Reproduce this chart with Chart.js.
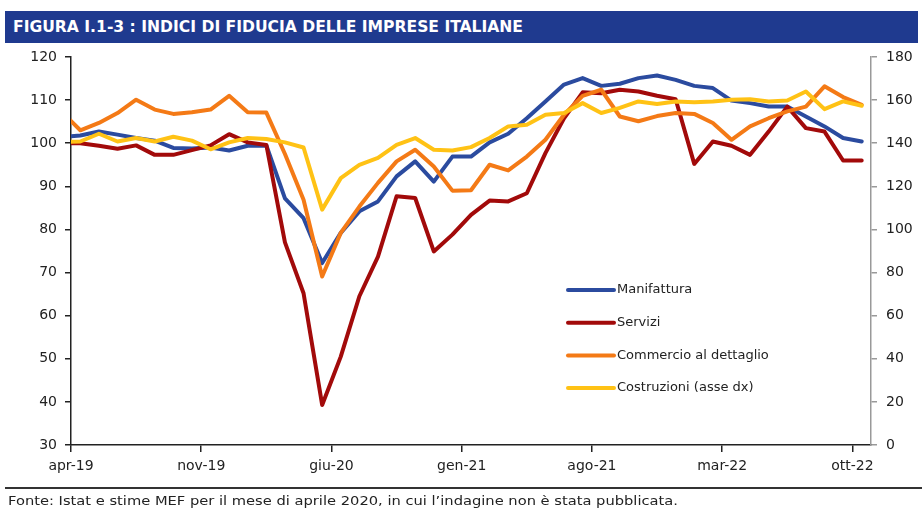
<!DOCTYPE html>
<html lang="it">
<head>
<meta charset="UTF-8">
<title>Indici di fiducia delle imprese italiane</title>
<script src="https://cdn.jsdelivr.net/npm/chart.js"></script>
<style>
  html, body { margin: 0; padding: 0; background: #fff; }
  body { width: 922px; height: 512px; position: relative; overflow: hidden; }
  #grafico { position: absolute; left: 0; top: 0; }
  #titolo { position: absolute; left: 5px; top: 11px; width: 913px; height: 32px; background: #1f3a8f; }
  #titolo span { position: absolute; left: 8px; top: 7px; color: #fff; font: bold 15px "DejaVu Sans Condensed", "DejaVu Sans", sans-serif; white-space: nowrap; transform-origin: left top; }
  #linea { position: absolute; left: 5px; top: 487px; width: 917px; height: 2px; background: #333; }
  #fonte { position: absolute; left: 8px; top: 493px; font: 13px "DejaVu Sans", sans-serif; color: #222; white-space: nowrap; transform-origin: left top; }
</style>
</head>
<body>
  <canvas id="grafico" width="922" height="512"></canvas>
  <div id="titolo"><span>FIGURA I.1-3 : INDICI DI FIDUCIA DELLE IMPRESE ITALIANE</span></div>
  <div id="linea"></div>
  <div id="fonte">Fonte: Istat e stime MEF per il mese di aprile 2020, in cui l’indagine non è stata pubblicata.</div>

<script>
// mesi (il primo, mar-19, resta fuori dall'asse e serve solo ad attaccare le linee al bordo)
const mesi = ['mar-19','apr-19','mag-19','giu-19','lug-19','ago-19','set-19','ott-19','nov-19','dic-19',
  'gen-20','feb-20','mar-20','apr-20','mag-20','giu-20','lug-20','ago-20','set-20','ott-20','nov-20','dic-20',
  'gen-21','feb-21','mar-21','apr-21','mag-21','giu-21','lug-21','ago-21','set-21','ott-21','nov-21','dic-21',
  'gen-22','feb-22','mar-22','apr-22','mag-22','giu-22','lug-22','ago-22','set-22','ott-22'];
const etichetteAsse = ['apr-19','nov-19','giu-20','gen-21','ago-21','mar-22','ott-22'];

const manifattura = [101.4, 101.8, 102.7, 102.0, 101.2, 100.6, 98.9, 98.8, 99.0, 98.3, 99.4, 99.5,
  87.2, 82.6, 72.2, 79.2, 84.2, 86.5, 92.3, 95.8, 91.1, 96.9, 96.9, 100.2, 102.2, 105.8, 109.7, 113.6,
  115.1, 113.3, 113.8, 115.1, 115.7, 114.7, 113.3, 112.8, 109.9, 109.3, 108.5, 108.5, 106.2, 103.9, 101.2, 100.4];
const servizi = [100.0, 100.0, 99.4, 98.7, 99.5, 97.3, 97.3, 98.4, 99.5, 102.1, 100.2, 99.6,
  77.0, 65.2, 39.3, 50.5, 64.5, 73.7, 87.7, 87.3, 74.9, 78.8, 83.4, 86.7, 86.5, 88.4, 97.7, 105.8,
  111.8, 111.6, 112.4, 112.0, 111.0, 110.2, 95.2, 100.4, 99.4, 97.3, 102.7, 108.5, 103.5, 102.7, 96.0, 96.0];
const commercio = [107.3, 103.0, 104.7, 107.0, 110.1, 107.8, 106.8, 107.2, 107.8, 111.0, 107.2, 107.1,
  97.5, 86.9, 69.1, 79.2, 85.3, 90.8, 95.8, 98.5, 94.6, 89.0, 89.1, 95.0, 93.7, 96.9, 100.8, 106.6,
  111.0, 112.4, 106.2, 105.1, 106.3, 107.0, 106.8, 104.7, 100.8, 103.9, 105.8, 107.4, 108.5, 113.2, 110.7, 108.9];
// costruzioni sull'asse di destra
const costruzioni = [140.6, 140.8, 144.4, 140.8, 142.4, 140.8, 143.0, 141.2, 137.2, 140.4, 142.4, 142.0,
  140.4, 138.0, 109.2, 123.8, 130.0, 133.2, 139.2, 142.4, 137.0, 136.6, 138.2, 142.4, 147.8, 148.6, 153.2, 154.0,
  158.6, 154.0, 156.4, 159.4, 158.2, 159.4, 159.0, 159.4, 160.2, 160.4, 159.4, 159.8, 164.0, 155.8, 159.4, 157.4];

const punti = serie => serie.map((v, i) => ({ x: i, y: v }));
const fontAssi = { family: 'DejaVu Sans', size: 14 };

// legenda disegnata dentro l'area del grafico
const legendaInterna = {
  id: 'legendaInterna',
  afterDraw(chart) {
    const ctx = chart.ctx;
    ctx.save();
    ctx.font = '13px "DejaVu Sans"';
    ctx.textBaseline = 'middle';
    chart.data.datasets.forEach((ds, i) => {
      const y = 290 + i * 32.7;
      ctx.strokeStyle = ds.borderColor;
      ctx.lineWidth = 4;
      ctx.lineCap = 'round';
      ctx.beginPath();
      ctx.moveTo(568, y);
      ctx.lineTo(614, y);
      ctx.stroke();
      ctx.fillStyle = '#222';
      ctx.fillText(ds.label, 617, y);
    });
    ctx.restore();
  }
};

const stileLinea = { borderWidth: 4, pointRadius: 0, tension: 0, borderJoinStyle: 'round', borderCapStyle: 'round', fill: false };

new Chart(document.getElementById('grafico'), {
  type: 'line',
  data: {
    datasets: [
      { label: 'Manifattura', data: punti(manifattura), borderColor: '#2b4b9f', yAxisID: 'y', order: 3, ...stileLinea },
      { label: 'Servizi', data: punti(servizi), borderColor: '#a20a0a', yAxisID: 'y', order: 2, ...stileLinea },
      { label: 'Commercio al dettaglio', data: punti(commercio), borderColor: '#f47a16', yAxisID: 'y', order: 1, ...stileLinea },
      { label: 'Costruzioni (asse dx)', data: punti(costruzioni), borderColor: '#ffc215', yAxisID: 'y2', order: 0, ...stileLinea }
    ]
  },
  options: {
    responsive: false,
    animation: false,
    layout: { padding: { top: 57, left: 0, right: 0, bottom: 0 } },
    plugins: { legend: { display: false }, tooltip: { enabled: false } },
    scales: {
      x: {
        type: 'linear',
        min: 0.5,
        max: mesi.length - 0.5,
        afterBuildTicks: s => { s.ticks = etichetteAsse.map(l => ({ value: mesi.indexOf(l) - 0.5 })); },
        afterFit: s => { s.height = 67; },
        ticks: { autoSkip: false, maxRotation: 0, padding: 6, color: '#222', font: fontAssi,
          callback: (v, i) => etichetteAsse[i] },
        grid: { drawOnChartArea: false, tickLength: 7, color: '#222', lineWidth: 1.5 },
        border: { color: '#222', width: 1.5 }
      },
      y: {
        position: 'left',
        min: 30, max: 120,
        afterFit: s => { s.width = 71; },
        ticks: { stepSize: 10, padding: 8, color: '#222', font: fontAssi },
        grid: { drawOnChartArea: false, tickLength: 6, color: '#222', lineWidth: 1.5 },
        border: { color: '#222', width: 1.5 }
      },
      y2: {
        position: 'right',
        min: 0, max: 180,
        afterFit: s => { s.width = 51; },
        ticks: { stepSize: 20, padding: 9, color: '#222', font: fontAssi },
        grid: { drawOnChartArea: false, tickLength: 6, color: '#999', lineWidth: 1.5 },
        border: { color: '#999', width: 1.5 }
      }
    }
  },
  plugins: [legendaInterna]
});

// adatta la larghezza dei testi del titolo e della fonte
function adatta(el, larghezza) {
  const w = el.getBoundingClientRect().width;
  if (w > 0) el.style.transform = 'scaleX(' + (larghezza / w) + ')';
}
adatta(document.querySelector('#titolo span'), 510);
adatta(document.getElementById('fonte'), 670);
</script>
</body>
</html>
